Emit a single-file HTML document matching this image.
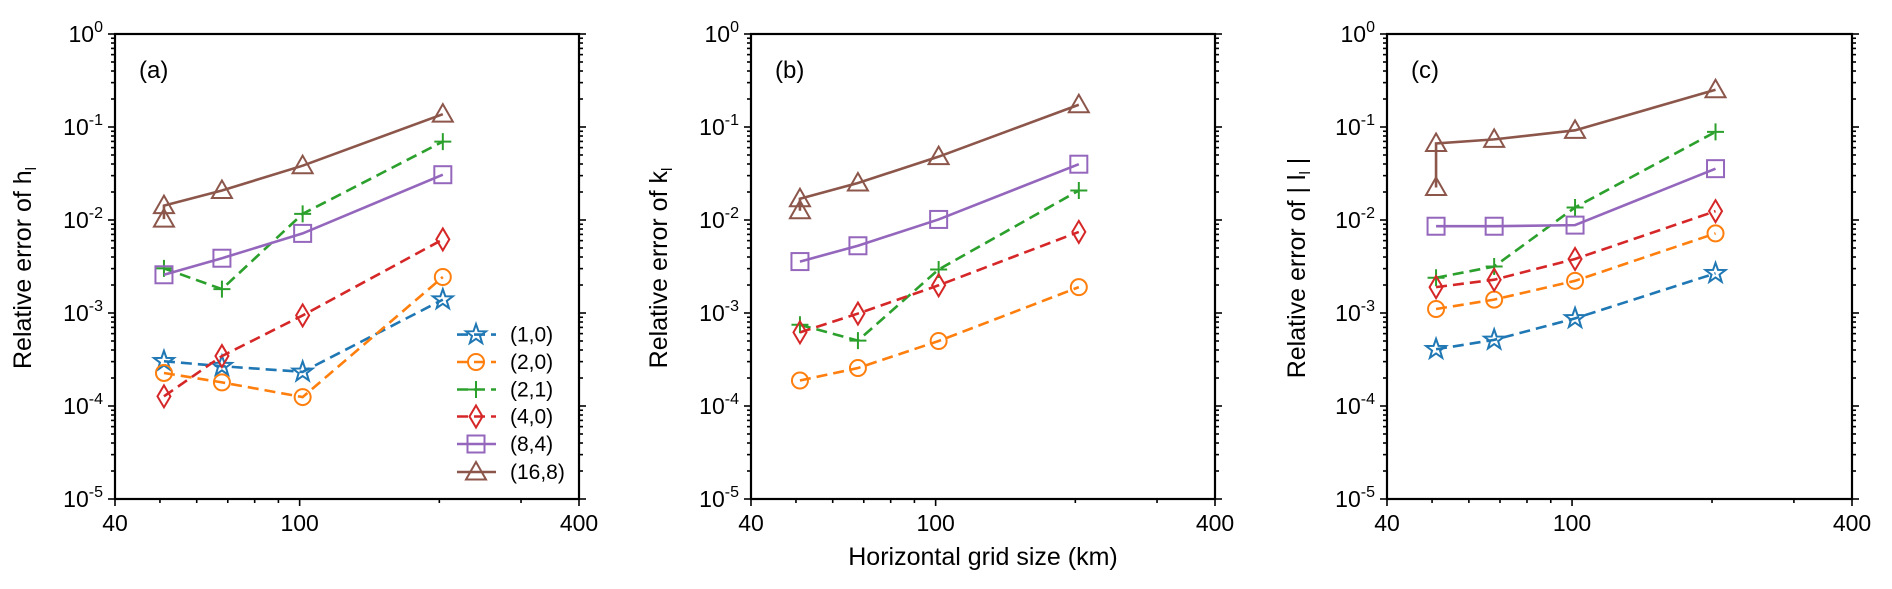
<!DOCTYPE html>
<html><head><meta charset="utf-8">
<style>
html,body{margin:0;padding:0;background:#fff;}
svg{display:block;font-family:"Liberation Sans",Arial,sans-serif;}
</style></head>
<body>
<svg id="fig" width="1892" height="589" viewBox="0 0 1892 589" xmlns="http://www.w3.org/2000/svg"></svg>
<script>
// ---- data ----
const gridSizes = [51, 68, 101.5, 203.5];
const seriesNames = ["(1,0)", "(2,0)", "(2,1)", "(4,0)", "(8,4)", "(16,8)"];
// log10 of relative error, panel (a) h_l
const aS10 = [-3.519, -3.572, -3.633, -2.856];
const aS20 = [-3.645, -3.746, -3.904, -2.613];
const aS21 = [-2.52, -2.743, -1.934, -1.157];
const aS40 = [-3.896, -3.463, -3.026, -2.209];
const aS84 = [-2.589, -2.411, -2.144, -1.513];
const aS168 = [-1.845, -1.683, -1.416, -0.862];
const aS168Extra = -1.99;
// panel (b) k_l (no (1,0) series)
const bS20 = [-3.726, -3.592, -3.301, -2.722];
const bS21 = [-3.127, -3.297, -2.532, -1.683];
const bS40 = [-3.208, -3.006, -2.702, -2.128];
const bS84 = [-2.447, -2.277, -1.994, -1.40];
const bS168 = [-1.772, -1.602, -1.319, -0.761];
const bS168Extra = -1.90;
// panel (c) |l_l|
const cS10 = [-3.39, -3.289, -3.058, -2.573];
const cS20 = [-2.957, -2.856, -2.654, -2.144];
const cS21 = [-2.621, -2.5, -1.865, -1.052];
const cS40 = [-2.722, -2.642, -2.419, -1.905];
const cS84 = [-2.067, -2.067, -2.055, -1.448];
const cS168 = [-1.177, -1.133, -1.036, -0.599];
const cS168Extra = -1.65;
const xTickLabels = ["40", "100", "400"];
const xTickValues = [40, 100, 400];
const yTickExps = ["0", "-1", "-2", "-3", "-4", "-5"];

const NS = "http://www.w3.org/2000/svg";
const svg = document.getElementById("fig");
const colors = ["#1f77b4", "#ff7f0e", "#2ca02c", "#d62728", "#9467bd", "#8c564b"];
const markers = ["star", "circle", "plus", "diamond", "square", "triangle"];
const dashed = [true, true, true, true, false, false];
const TOP = 34, BOT = 499;

function mk(tag, attrs, parent) {
  const e = document.createElementNS(NS, tag);
  for (const k in attrs) e.setAttribute(k, attrs[k]);
  (parent || svg).appendChild(e);
  return e;
}
function makeAxes(left, right) {
  const xs = v => left + (Math.log10(v) - Math.log10(40)) / (Math.log10(400) - Math.log10(40)) * (right - left);
  const ys = lg => TOP + (0 - lg) / 5 * (BOT - TOP);
  return { xs, ys };
}
function drawMarker(g, type, x, y, color) {
  let e;
  const st = { fill: "none", stroke: color, "stroke-width": 2 };
  if (type === "circle") e = mk("circle", Object.assign({ cx: x, cy: y, r: 8 }, st), g);
  else if (type === "square") e = mk("rect", Object.assign({ x: x - 8.5, y: y - 8.5, width: 17, height: 17 }, st), g);
  else if (type === "triangle") e = mk("path", Object.assign({ d: `M${x},${y - 10}L${x + 10},${y + 7.5}L${x - 10},${y + 7.5}Z` }, st), g);
  else if (type === "diamond") e = mk("path", Object.assign({ d: `M${x},${y - 11}L${x + 6.5},${y}L${x},${y + 11}L${x - 6.5},${y}Z` }, st), g);
  else if (type === "plus") e = mk("path", Object.assign({ d: `M${x - 8.5},${y}H${x + 8.5}M${x},${y - 8.5}V${y + 8.5}` }, st), g);
  else {
    let d = "";
    for (let i = 0; i < 10; i++) {
      const r = i % 2 ? 4.2 : 10.5, a = -Math.PI / 2 + i * Math.PI / 5;
      d += (i ? "L" : "M") + (x + r * Math.cos(a)).toFixed(2) + "," + (y + r * Math.sin(a)).toFixed(2);
    }
    e = mk("path", Object.assign({ d: d + "Z" }, st), g);
  }
  
  
}
function drawPanel(id, left, right, label, titleHTML, titleX, series) {
  const { xs, ys } = makeAxes(left, right);
  const g = mk("g", {});
  
  
  const tk = mk("g", { stroke: "#000", "stroke-width": 1.6 }, g);
  
  
  for (let d = 0; d >= -5; d--) {
    const y = ys(d);
    mk("line", { x1: left - 7, x2: left, y1: y, y2: y }, tk);
    mk("line", { x1: right, x2: right + 7, y1: y, y2: y }, tk);
    if (d > -5) for (let m = 2; m <= 9; m++) {
      const ym = ys(d - 1 + Math.log10(m));
      mk("line", { x1: left - 4, x2: left, y1: ym, y2: ym }, tk);
      mk("line", { x1: right, x2: right + 4, y1: ym, y2: ym }, tk);
    }
  }
  [40, 100, 400].forEach(v => mk("line", { x1: xs(v), x2: xs(v), y1: BOT, y2: BOT + 7 }, tk));
  [50, 60, 70, 80, 90, 200, 300].forEach(v => mk("line", { x1: xs(v), x2: xs(v), y1: BOT, y2: BOT + 4 }, tk));
  const fr = mk("rect", { x: left, y: TOP, width: right - left, height: BOT - TOP, fill: "none", stroke: "#000", "stroke-width": 2.2 }, g);
  
  
  yTickExps.forEach((ex, i) => {
    const t = mk("text", { x: left - 12, y: ys(-i) + 8, "text-anchor": "end", "font-size": 23 }, g);
    
    
    t.innerHTML = `10<tspan dy="-10" font-size="16">${ex}</tspan>`;
  });
  xTickLabels.forEach((lb, i) => {
    const t = mk("text", { x: xs(xTickValues[i]), y: BOT + 32, "text-anchor": "middle", "font-size": 23 }, g);
    
    
    t.textContent = lb;
  });
  const pl = mk("text", { x: left + 24, y: TOP + 44, "font-size": 24 }, g);
  
  
  pl.textContent = label;
  const yt = mk("text", { x: 0, y: 0, "text-anchor": "middle", "font-size": 25, transform: `translate(${titleX},268) rotate(-90)` }, g);
  
  
  yt.innerHTML = titleHTML;
  series.forEach(s => {
    const sg = mk("g", {}, g);
    
    
    const px = [], py = [];
    if (s.extra !== undefined) { px.push(xs(gridSizes[0])); py.push(ys(s.extra)); }
    s.v.forEach((v, i) => { px.push(xs(gridSizes[i])); py.push(ys(v)); });
    const ln = mk("polyline", { points: px.map((x, i) => x + "," + py[i]).join(" "), fill: "none", stroke: colors[s.k], "stroke-width": 2.6, "stroke-dasharray": dashed[s.k] ? "11,6" : "none" }, sg);
    
    
    px.forEach((x, i) => drawMarker(sg, markers[s.k], x, py[i], colors[s.k]));
  });
  return { xs, ys };
}
drawPanel("a", 115, 579, "(a)", 'Relative error of h<tspan dy="5" font-size="15">l</tspan>', 31, [
  { k: 0, v: aS10 }, { k: 1, v: aS20 }, { k: 2, v: aS21 }, { k: 3, v: aS40 }, { k: 4, v: aS84 }, { k: 5, v: aS168, extra: aS168Extra }]);
drawPanel("b", 751, 1215, "(b)", 'Relative error of k<tspan dy="5" font-size="15">l</tspan>', 667, [
  { k: 1, v: bS20 }, { k: 2, v: bS21 }, { k: 3, v: bS40 }, { k: 4, v: bS84 }, { k: 5, v: bS168, extra: bS168Extra }]);
drawPanel("c", 1387, 1852, "(c)", 'Relative error of | l<tspan dy="5" font-size="15">l</tspan><tspan dy="-5"> |</tspan>', 1305, [
  { k: 0, v: cS10 }, { k: 1, v: cS20 }, { k: 2, v: cS21 }, { k: 3, v: cS40 }, { k: 4, v: cS84 }, { k: 5, v: cS168, extra: cS168Extra }]);

const xt = mk("text", { x: 983, y: 565, "text-anchor": "middle", "font-size": 25 });


xt.textContent = "Horizontal grid size (km)";

const lg = mk("g", {});


const legendY = [334.6, 362, 389.5, 416.5, 444, 472];
seriesNames.forEach((nm, k) => {
  const y = legendY[k];
  const eg = mk("g", {}, lg);
  
  
  mk("line", { x1: 457, x2: 496, y1: y, y2: y, stroke: colors[k], "stroke-width": 2.6, "stroke-dasharray": dashed[k] ? "11,6" : "none" }, eg);
  drawMarker(eg, markers[k], 476, y, colors[k]);
  const t = mk("text", { x: 510, y: y + 7, "font-size": 21 }, eg);
  
  
  t.textContent = nm;
});
</script>
</body></html>
